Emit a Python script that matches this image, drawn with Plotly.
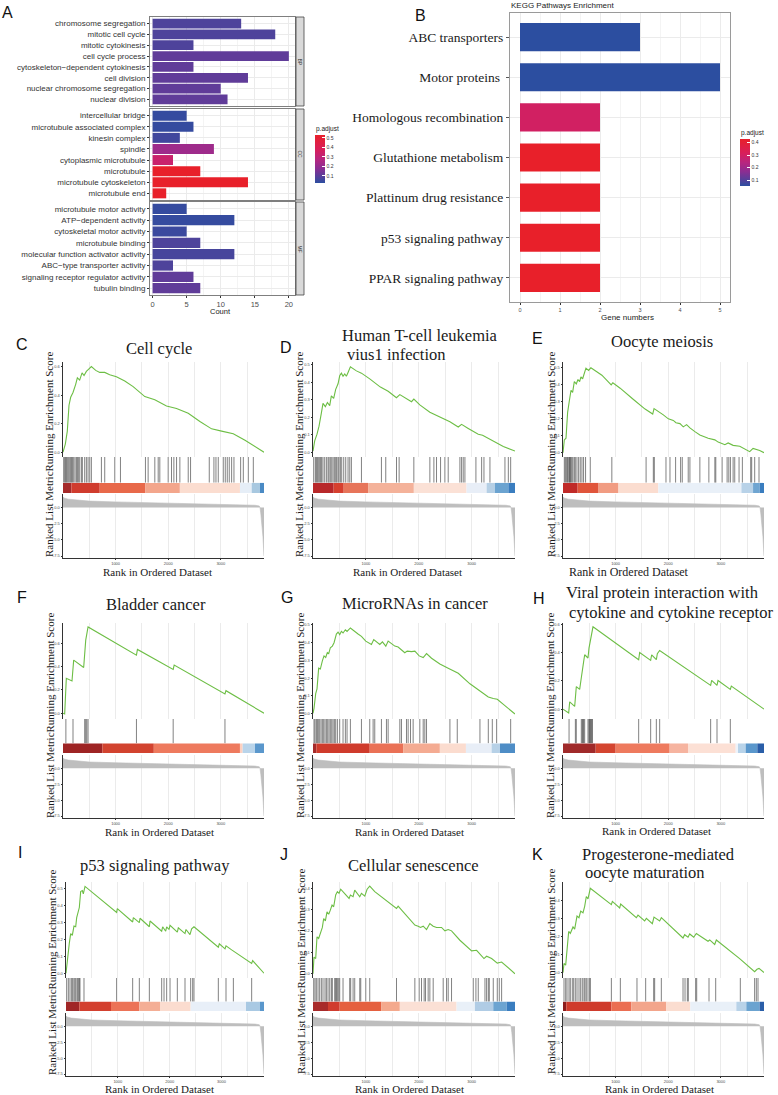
import plotly.graph_objects as go

W, H = 778, 1095
def fx(x): return x / W
def fy(y): return 1 - y / H

SANS = "Liberation Sans, Arial, sans-serif"
SERIF = "Liberation Serif, Times New Roman, serif"
GRID = "#EBEBEB"
GREEN = "#6DBE45"
CSCALE = [[0, "#2C4EA0"], [0.3, "#8A2E93"], [0.5, "#B8267F"], [0.7, "#D81E5A"], [1, "#E8202A"]]

# ---------------- Panel A : GO enrichment ----------------
bp_terms = ["chromosome segregation", "mitotic cell cycle", "mitotic cytokinesis", "cell cycle process",
            "cytoskeleton\u2212dependent cytokinesis", "cell division", "nuclear chromosome segregation", "nuclear division"]
bp_count = [13, 18, 6, 20, 6, 14, 10, 11]
bp_padj = [0.08, 0.08, 0.08, 0.11, 0.11, 0.11, 0.11, 0.11]
cc_terms = ["intercellular bridge", "microtubule associated complex", "kinesin complex", "spindle",
            "cytoplasmic microtubule", "microtubule", "microtubule cytoskeleton", "microtubule end"]
cc_count = [5, 6, 4, 9, 3, 7, 14, 2]
cc_padj = [0.04, 0.04, 0.06, 0.22, 0.33, 0.53, 0.53, 0.53]
mf_terms = ["microtubule motor activity", "ATP\u2212dependent activity", "cytoskeletal motor activity", "microtubule binding",
            "molecular function activator activity", "ABC\u2212type transporter activity",
            "signaling receptor regulator activity", "tubulin binding"]
mf_count = [5, 12, 5, 7, 12, 3, 6, 7]
mf_padj = [0.04, 0.04, 0.05, 0.08, 0.07, 0.08, 0.11, 0.11]
a_xticks = [0, 5, 10, 15, 20]
a_cticks = [0.1, 0.2, 0.3, 0.4, 0.5]

# ---------------- Panel B : KEGG enrichment ----------------
kegg_terms = ["ABC transporters", "Motor proteins ", "Homologous recombination", "Glutathione metabolism",
              "Plattinum drug resistance", "p53 signaling pathway", "PPAR signaling pathway"]
kegg_count = [3, 5, 2, 2, 2, 2, 2]
kegg_padj = [0.052, 0.052, 0.30, 0.43, 0.43, 0.43, 0.43]
b_xticks = [0, 1, 2, 3, 4, 5]
b_cticks = [0.1, 0.2, 0.3, 0.4]

# ---------------- GSEA shared ranked list metric ----------------
NGENES = 3820
metric_x = [0, 30, 100, 250, 500, 1000, 2000, 3000, 3650, 3730, 3745, 3760, 3780, 3800, 3820]
metric_y = [1.6, 1.45, 1.3, 1.15, 1.0, 0.88, 0.68, 0.52, 0.36, 0.25, 0.0, -1.0, -2.5, -4.5, -7.5]
rank_ticks = [1000, 2000, 3000]
metric_ticks = [-7.5, -5.0, -2.5, 0.0]

# C  Cell cycle
c_es_x = [0,44,82,114,146,190,241,273,317,362,400,444,489,539,622,698,793,888,1015,1174,1333,1555,1745,1967,2158,2380,2602,2824,3014,3236,3459,3681,3820]
c_es_y = [0,0.057,0.148,0.33,0.386,0.42,0.477,0.523,0.507,0.557,0.539,0.568,0.584,0.602,0.575,0.561,0.561,0.545,0.53,0.5,0.461,0.391,0.368,0.325,0.307,0.273,0.216,0.164,0.148,0.13,0.084,0.034,0]
c_hits = [13,32,51,63,82,102,127,146,165,178,203,228,254,273,292,317,349,368,412,444,476,508,539,730,793,984,1092,1567,1618,1745,1809,1840,1999,2062,2107,2158,2221,2380,2424,2780,2868,2907,2951,3046,3084,3122,3160,3205,3249,3376,3427,3522,3617]
c_seg_edges = [0,159,698,1567,2221,3363,3586,3744,3820]
c_seg_colors = ["#A52A2A","#D03C2E","#E8694A","#F3A68C","#FBDDD0","#E6EEF7","#A8C8E0","#4A8AC4"]
c_es_ticks = [0.0, 0.2, 0.4, 0.6]

# D  Human T-cell leukemia virus 1 infection
d_es_x = [0,32,76,114,158,189,234,272,316,347,391,429,474,505,537,568,600,631,663,707,821,916,1073,1275,1421,1578,1642,1768,1863,1907,2020,2210,2431,2589,2747,2810,2936,3031,3125,3207,3409,3599,3820]
d_es_y = [0.006,0.065,0.103,0.149,0.224,0.28,0.261,0.285,0.267,0.323,0.308,0.36,0.392,0.438,0.453,0.435,0.448,0.435,0.457,0.489,0.466,0.453,0.42,0.373,0.349,0.312,0.33,0.308,0.289,0.304,0.271,0.229,0.196,0.174,0.144,0.159,0.136,0.121,0.103,0.097,0.062,0.032,0.006]
d_hits = [13,44,63,82,101,126,145,164,189,221,253,284,303,328,354,379,404,429,448,474,492,518,543,581,619,663,695,726,916,1294,1376,1579,1629,1907,2210,2286,2336,2412,2494,2557,2778,2810,2841,2873,3081,3189,3233,3346,3630,3694,3738]
d_seg_edges = [0,391,581,1042,1907,2904,3283,3441,3694,3820]
d_seg_colors = ["#B8282A","#D6402F","#E7755A","#F4B29A","#FBE1D6","#E8EEF7","#B5CFE5","#6BA3D0","#3A7DBF"]
d_es_ticks = [0.0, 0.1, 0.2, 0.3, 0.4, 0.5]

# E  Oocyte meiosis
e_es_x = [0,25,57,88,120,152,183,215,253,284,316,341,373,404,436,486,530,739,916,947,1086,1339,1560,1705,1730,1907,2002,2096,2147,2223,2286,2349,2412,2507,2601,2759,2886,2949,3076,3139,3233,3359,3422,3548,3612,3675,3738,3820]
e_es_y = [0,0.075,0.085,0.236,0.302,0.364,0.353,0.415,0.402,0.428,0.415,0.443,0.432,0.462,0.494,0.481,0.496,0.453,0.396,0.409,0.377,0.311,0.255,0.226,0.258,0.221,0.198,0.189,0.175,0.17,0.151,0.164,0.145,0.123,0.104,0.085,0.075,0.062,0.047,0.057,0.043,0.038,0.028,0.006,0.025,0.019,0.013,0]
e_hits = [25,44,63,82,95,114,126,139,152,170,189,215,234,265,297,328,360,391,429,518,928,1579,1717,1736,1957,2033,2140,2235,2267,2380,2412,2601,2772,2886,2904,3024,3119,3151,3182,3233,3264,3346,3409,3567,3586,3643,3725]
e_seg_edges = [0,278,676,1054,1812,3391,3612,3738,3820]
e_seg_colors = ["#C02A28","#E0553B","#F19C82","#FBDDD0","#E9F0F8","#B8D2E8","#6FA5D1","#3A7DBF"]
e_es_ticks = [0.0, 0.1, 0.2, 0.3, 0.4, 0.5]

# F  Bladder cancer
f_es_x = [0,32,63,95,171,203,286,393,432,457,476,1396,1415,2094,2113,3078,3097,3820]
f_es_y = [0,-0.006,0.3,0.294,0.277,0.457,0.429,0.394,0.629,0.686,0.743,0.5,0.549,0.377,0.414,0.166,0.194,0.0]
f_hits = [55,190,412,432,452,476,1396,2094,3078]
f_seg_edges = [0,749,1726,3363,3414,3649,3820]
f_seg_colors = ["#9E2424","#D2432F","#EE7A5E","#FDD0C0","#B9D4EA","#5A97CC"]
f_es_ticks = [0.0, 0.2, 0.4, 0.6]

# G  MicroRNAs in cancer
g_es_x = [0,19,51,76,107,139,177,208,240,271,297,328,366,398,442,474,505,537,568,612,644,707,852,916,998,1105,1149,1263,1313,1377,1421,1547,1610,1736,1781,1863,1926,2008,2084,2147,2242,2399,2557,2747,2968,3157,3315,3409,3485,3820]
g_es_y = [0.002,0.03,0.113,0.14,0.256,0.251,0.297,0.325,0.316,0.343,0.338,0.371,0.38,0.399,0.448,0.459,0.445,0.463,0.454,0.472,0.463,0.482,0.448,0.435,0.408,0.389,0.417,0.389,0.404,0.38,0.408,0.38,0.375,0.343,0.352,0.349,0.352,0.325,0.316,0.338,0.312,0.279,0.256,0.227,0.168,0.127,0.094,0.085,0.081,-0.002]
g_hits = [19,38,63,82,101,126,152,177,202,227,253,278,303,328,354,379,404,429,461,505,568,612,644,707,916,1073,1137,1168,1294,1389,1421,1642,1673,1768,1799,1844,1894,2020,2084,2115,2147,2589,2728,3157,3315,3391,3473,3738]
g_seg_edges = [0,63,1073,1705,2399,2892,3378,3536,3820]
g_seg_colors = ["#A52A2A","#CF3B2C","#EA7156","#F4AB92","#FBDCCF","#E8EEF7","#B7D1E7","#4E8DC6"]
g_es_ticks = [0.0, 0.1, 0.2, 0.3, 0.4, 0.5]

# H  Viral protein interaction with cytokine and cytokine receptor
h_es_x = [0,108,127,222,253,317,348,367,393,412,475,494,519,545,570,1438,1457,1666,1685,1774,1793,1837,2806,2825,2927,2946,3180,3199,3820]
h_es_y = [0,-0.028,0.051,0.019,0.159,0.14,0.222,0.285,0.338,0.385,0.362,0.432,0.478,0.537,0.583,0.35,0.401,0.345,0.385,0.35,0.392,0.415,0.168,0.203,0.168,0.203,0.14,0.163,0]
h_hits = [115,235,253,348,367,380,393,412,475,494,506,519,532,545,560,1438,1666,1774,1837,2806,2927,3180]
h_seg_edges = [0,621,1001,2027,2376,3282,3326,3472,3693,3820]
h_seg_colors = ["#A02A2A","#D44530","#EE7A5E","#F6B4A0","#FCE0D5","#EDF3FA","#B8D3E9","#5A97CC","#2A5EA8"]
h_es_ticks = [0.0, 0.2, 0.4, 0.6]

# I  p53 signaling pathway
i_es_x = [0,32,64,90,122,154,187,206,232,257,283,315,334,367,977,990,1286,1299,1415,1428,1608,1621,1846,1865,1923,1942,1987,2007,2148,2167,2296,2315,2392,2424,2469,2939,2958,3068,3087,3196,3582,3601,3820]
i_es_y = [0,0.108,0.177,0.233,0.223,0.277,0.273,0.327,0.361,0.386,0.48,0.486,0.466,0.51,0.357,0.38,0.301,0.327,0.297,0.323,0.273,0.307,0.247,0.273,0.247,0.273,0.257,0.281,0.241,0.267,0.233,0.257,0.227,0.261,0.273,0.153,0.173,0.143,0.161,0.137,0.058,0.074,0]
i_hits = [13,45,77,109,129,154,174,193,219,238,257,270,347,977,1286,1415,1608,1846,1891,1942,2007,2148,2296,2405,2444,2469,2939,3087,3229,3582]
i_seg_edges = [0,257,868,1415,1814,2405,3473,3743,3820]
i_seg_colors = ["#A02626","#D3402F","#EC7357","#F4AE95","#FBDCCF","#E8EFF8","#A9C9E3","#5A97CC"]
i_es_ticks = [0.0, 0.1, 0.2, 0.3, 0.4, 0.5]

# J  Cellular senescence
j_es_x = [0,19,51,76,107,139,177,202,234,265,297,328,360,391,429,461,492,524,568,682,707,758,789,884,916,979,1023,1073,1168,1389,1484,1579,1610,1768,1926,1989,2033,2084,2147,2210,2273,2336,2431,2494,2557,2620,2778,3000,3094,3233,3283,3378,3485,3567,3820]
j_es_y = [0,0.078,0.071,0.173,0.165,0.188,0.217,0.259,0.248,0.29,0.279,0.298,0.322,0.314,0.369,0.385,0.377,0.396,0.385,0.353,0.369,0.361,0.392,0.361,0.377,0.364,0.396,0.411,0.385,0.342,0.322,0.306,0.317,0.27,0.228,0.223,0.217,0.223,0.207,0.235,0.223,0.217,0.217,0.201,0.207,0.201,0.157,0.107,0.11,0.071,0.082,0.071,0.05,0.055,0]
j_hits = [13,38,63,95,126,158,189,227,253,284,316,347,366,410,429,442,461,486,505,568,694,713,758,789,884,903,998,1073,1579,1926,2008,2052,2102,2128,2178,2210,2273,2462,2526,2557,2620,3031,3081,3125,3252,3283,3315,3334,3409,3485,3523,3567]
j_seg_edges = [0,284,505,1294,1642,2715,3062,3409,3662,3820]
j_seg_colors = ["#A82A2A","#D03C2E","#E5603F","#F4A98D","#FBE0D5","#E9F0F8","#B0CCE5","#6CA4D1","#3A7DBF"]
j_es_ticks = [0.0, 0.1, 0.2, 0.3, 0.4]

# K  Progesterone-mediated oocyte maturation
k_es_x = [0,19,51,76,108,139,190,222,266,304,336,380,412,443,475,519,919,938,1077,1096,1394,1425,1552,1584,1698,1729,1837,1869,2281,2312,2376,2408,2484,2534,2756,2788,2883,2914,3357,3642,3687,3725,3820]
k_es_y = [0,0.05,0.041,0.137,0.227,0.216,0.252,0.24,0.312,0.303,0.339,0.33,0.366,0.42,0.407,0.465,0.375,0.393,0.357,0.378,0.303,0.317,0.285,0.299,0.27,0.306,0.285,0.303,0.191,0.209,0.195,0.213,0.195,0.216,0.173,0.18,0.155,0.18,0.077,0.005,0.018,0.023,0]
k_hits = [19,51,76,114,139,177,203,234,266,304,336,367,399,418,443,475,507,519,919,1090,1406,1571,1723,1742,1869,2281,2319,2363,2382,2521,2541,2775,2902,3370,3642,3674,3706]
k_seg_edges = [0,63,919,1299,1964,2420,3294,3484,3738,3820]
k_seg_colors = ["#8C1C1C","#CF3B2C","#EB6E52","#F3A58B","#FBDDD0","#E9F0F8","#B8D2E8","#6BA3D0","#2A5EA8"]
k_es_ticks = [0.0, 0.1, 0.2, 0.3, 0.4]

# ================= build figure =================
fig = go.Figure()
layout = {}
annotations = []
shapes = []
counter = [0]

def new_axes():
    counter[0] += 1
    n = counter[0]
    s = "" if n == 1 else str(n)
    return "x" + s, "y" + s, "xaxis" + s, "yaxis" + s

def ann(text, x, y, size, family=SERIF, color="#1a1a1a", xanchor="center", yanchor="middle", angle=0):
    annotations.append(dict(text=text, x=fx(x), y=fy(y), xref="paper", yref="paper", showarrow=False,
                            font=dict(size=size, family=family, color=color),
                            xanchor=xanchor, yanchor=yanchor, textangle=angle, borderpad=0))

# ---- Panel A
A_FACETS = [(bp_terms, bp_count, bp_padj, 17, 106, "BP"),
            (cc_terms, cc_count, cc_padj, 109, 200, "CC"),
            (mf_terms, mf_count, mf_padj, 202, 295, "MF")]
for i, (terms, cnt, padj, top, bot, strip) in enumerate(A_FACETS):
    xr, yr, xk, yk = new_axes()
    fig.add_trace(go.Bar(x=cnt, y=terms, orientation="h", width=0.9,
                         marker=dict(color=padj, coloraxis="coloraxis", line=dict(width=0)),
                         xaxis=xr, yaxis=yr, hoverinfo="skip"))
    last = (i == 2)
    layout[xk] = dict(domain=[fx(150), fx(295)], range=[-0.38, 20.9], anchor=yr,
                      tickmode="array", tickvals=a_xticks, showticklabels=last,
                      tickfont=dict(size=7.5, family=SANS, color="#4D4D4D"),
                      ticks="outside" if last else "", ticklen=2, tickcolor="#333",
                      showgrid=True, gridcolor=GRID,
                      minor=dict(tickvals=[2.5, 7.5, 12.5, 17.5], showgrid=True, gridcolor="#F4F4F4"),
                      showline=True, mirror=True, linecolor="#7F7F7F", linewidth=1, zeroline=False)
    layout[yk] = dict(domain=[fy(bot), fy(top)], type="category", categoryorder="array",
                      categoryarray=terms[::-1], range=[-0.6, 7.6], anchor=xr,
                      tickfont=dict(size=8, family=SANS, color="#333"),
                      ticks="outside", ticklen=2, tickcolor="#333", showgrid=True, gridcolor=GRID,
                      showline=True, mirror=True, linecolor="#7F7F7F", linewidth=1, zeroline=False)
    shapes.append(dict(type="rect", xref="paper", yref="paper", x0=fx(296), x1=fx(304), y0=fy(bot), y1=fy(top),
                       fillcolor="#D9D9D9", line=dict(color="#444", width=0.8)))
    ann(strip, 300, (top + bot) / 2, 5, family=SANS, color="#333", angle=90)

ann("Count", 221, 311, 7.5, family=SANS, color="#222")
ann("p.adjust", 315, 129, 6.5, family=SANS, color="#222", xanchor="left")
ann("A", 7, 13, 16, family=SANS, color="#111")

# ---- Panel B
xr, yr, xk, yk = new_axes()
fig.add_trace(go.Bar(x=kegg_count, y=kegg_terms, orientation="h", width=0.7,
                     marker=dict(color=kegg_padj, coloraxis="coloraxis2", line=dict(width=0)),
                     xaxis=xr, yaxis=yr, hoverinfo="skip"))
layout[xk] = dict(domain=[fx(510), fx(730)], range=[-0.25, 5.25], anchor=yr,
                  tickmode="array", tickvals=b_xticks, tickfont=dict(size=5.5, family=SANS, color="#4D4D4D"),
                  ticks="outside", ticklen=2, tickcolor="#333", showgrid=True, gridcolor=GRID,
                  minor=dict(tickvals=[0.5, 1.5, 2.5, 3.5, 4.5], showgrid=True, gridcolor="#F4F4F4"),
                  showline=True, mirror=True, linecolor="#9A9A9A", linewidth=1, zeroline=False)
layout[yk] = dict(domain=[fy(302), fy(13)], type="category", categoryorder="array",
                  categoryarray=kegg_terms[::-1], range=[-0.6, 6.6], anchor=xr,
                  tickfont=dict(size=13.5, family=SERIF, color="#1a1a1a"),
                  ticks="outside", ticklen=3, tickcolor="#555", showgrid=True, gridcolor=GRID,
                  showline=True, mirror=True, linecolor="#9A9A9A", linewidth=1, zeroline=False)
ann("KEGG Pathways Enrichment", 510, 6, 8, family=SANS, color="#222", xanchor="left")
ann("Gene numbers", 627, 317, 8, family=SANS, color="#222")
ann("p.adjust", 740, 133, 6.5, family=SANS, color="#222", xanchor="left")
ann("B", 420, 15, 16, family=SANS, color="#111")

# ---- GSEA panels
ROWS = {1: (362, 457, 493, 494, 558),
        2: (623, 719, 753, 755, 818),
        3: (882, 978, 1011, 1013, 1076)}
PANELS = [
    ("C", c_es_x, c_es_y, c_hits, c_seg_edges, c_seg_colors, c_es_ticks, [-0.034, 0.634], 63, 264, 1),
    ("D", d_es_x, d_es_y, d_hits, d_seg_edges, d_seg_colors, d_es_ticks, [-0.028, 0.517], 313, 515, 1),
    ("E", e_es_x, e_es_y, e_hits, e_seg_edges, e_seg_colors, e_es_ticks, [-0.025, 0.53], 563, 764, 1),
    ("F", f_es_x, f_es_y, f_hits, f_seg_edges, f_seg_colors, f_es_ticks, [-0.05, 0.777], 63, 264, 2),
    ("G", g_es_x, g_es_y, g_hits, g_seg_edges, g_seg_colors, g_es_ticks, [-0.03, 0.51], 313, 515, 2),
    ("H", h_es_x, h_es_y, h_hits, h_seg_edges, h_seg_colors, h_es_ticks, [-0.07, 0.61], 563, 764, 2),
    ("I", i_es_x, i_es_y, i_hits, i_seg_edges, i_seg_colors, i_es_ticks, [-0.028, 0.536], 66, 264, 3),
    ("J", j_es_x, j_es_y, j_hits, j_seg_edges, j_seg_colors, j_es_ticks, [-0.02, 0.43], 313, 515, 3),
    ("K", k_es_x, k_es_y, k_hits, k_seg_edges, k_seg_colors, k_es_ticks, [-0.03, 0.5], 563, 764, 3),
]
TICKF = dict(size=4, family=SANS, color="#4D4D4D")
for key, esx, esy, hits, edges, colors, esticks, esrange, left, right, row in PANELS:
    es_top, es_bot, mid_bot, bot_top, bot_bot = ROWS[row]
    # running enrichment score
    xr, yr, xk, yk = new_axes()
    fig.add_trace(go.Scatter(x=esx, y=esy, mode="lines", line=dict(color=GREEN, width=1.1),
                             xaxis=xr, yaxis=yr, hoverinfo="skip"))
    layout[xk] = dict(domain=[fx(left), fx(right)], range=[0, NGENES], anchor=yr, showticklabels=False,
                      tickmode="array", tickvals=rank_ticks, ticks="", showgrid=True, gridcolor=GRID,
                      minor=dict(tickvals=[500, 1500, 2500, 3500], showgrid=True, gridcolor=GRID),
                      zeroline=False, showline=False)
    layout[yk] = dict(domain=[fy(es_bot), fy(es_top)], range=esrange, anchor=xr, tickmode="array",
                      tickvals=esticks, ticktext=[f"{v:.1f}" for v in esticks], tickfont=TICKF,
                      ticks="outside", ticklen=1.5, tickcolor="#333", showline=True, linecolor="#333",
                      linewidth=0.8, showgrid=False, zeroline=False)
    # hits + colour bar
    xr, yr, xk, yk = new_axes()
    hx, hy = [], []
    for h in hits:
        hx += [h, h, None]
        hy += [0.29, 1.0, None]
    fig.add_trace(go.Scatter(x=hx, y=hy, mode="lines", line=dict(color="rgba(30,30,30,0.7)", width=0.8),
                             xaxis=xr, yaxis=yr, hoverinfo="skip"))
    starts = edges[:-1]
    widths = [b - a for a, b in zip(edges[:-1], edges[1:])]
    fig.add_trace(go.Bar(x=widths, base=starts, y=[0.14] * len(widths), orientation="h", width=0.28,
                         marker=dict(color=colors, line=dict(width=0)), xaxis=xr, yaxis=yr, hoverinfo="skip"))
    layout[xk] = dict(domain=[fx(left), fx(right)], range=[0, NGENES], anchor=yr, visible=False)
    layout[yk] = dict(domain=[fy(mid_bot), fy(es_bot)], range=[0, 1], anchor=xr, visible=False)
    # ranked list metric
    xr, yr, xk, yk = new_axes()
    fig.add_trace(go.Scatter(x=metric_x, y=metric_y, mode="lines", fill="tozeroy",
                             fillcolor="#BEBEBE", line=dict(color="#BEBEBE", width=0.6),
                             xaxis=xr, yaxis=yr, hoverinfo="skip"))
    layout[xk] = dict(domain=[fx(left), fx(right)], range=[0, NGENES], anchor=yr, tickmode="array",
                      tickvals=rank_ticks, tickfont=TICKF, ticks="outside", ticklen=1.5, tickcolor="#333",
                      showgrid=True, gridcolor=GRID,
                      minor=dict(tickvals=[500, 1500, 2500, 3500], showgrid=True, gridcolor=GRID),
                      showline=True, linecolor="#333", linewidth=0.8, zeroline=False)
    layout[yk] = dict(domain=[fy(bot_bot), fy(bot_top)], range=[-7.8, 2.1], anchor=xr, tickmode="array",
                      tickvals=metric_ticks, ticktext=[f"{v:.1f}" for v in metric_ticks], tickfont=TICKF,
                      ticks="outside", ticklen=1.5, tickcolor="#333", showline=True, linecolor="#333",
                      linewidth=0.8, showgrid=False, zeroline=False)

# GSEA texts
ylabel = "Ranked List MetricRunning Enrichment Score"
for x, y in [(49, 455), (299, 455), (551, 455), (50, 716), (300, 716), (550, 716), (52, 972), (301, 972), (551, 972)]:
    ann(ylabel, x, y, 11, angle=-90)
for x, y, s in [(157, 572, 11), (407, 572, 11), (629, 572, 12), (159, 832, 11), (409, 832, 11),
                (656, 831, 11), (159, 1089, 11), (409, 1089, 11), (659, 1089, 11)]:
    ann("Rank in Ordered Dataset", x, y, s)
TITLES = [("Cell cycle", 159, 348), ("Human T-cell leukemia", 420, 335), ("vius1 infection", 396, 354),
          ("Oocyte meiosis", 662, 341), ("Bladder cancer", 156, 604), ("MicroRNAs in cancer", 415, 603),
          ("Viral protein interaction with", 662, 592), ("cytokine and cytokine receptor", 671, 612),
          ("p53 signaling pathway", 155, 865), ("Cellular senescence", 413, 865),
          ("Progesterone-mediated", 658, 854), ("oocyte maturation", 645, 873)]
for t, x, y in TITLES:
    ann(t, x, y, 16.5)
for lab, x, y in [("C", 22, 345), ("D", 286, 347), ("E", 537, 339), ("F", 22, 597), ("G", 287, 597),
                  ("H", 539, 598), ("I", 20, 852), ("J", 284, 854), ("K", 537, 854)]:
    ann(lab, x, y, 16, family=SANS, color="#111")

cb_common = dict(thickness=10, lenmode="pixels", xanchor="left", yanchor="top", ticks="inside",
                 ticklen=3, tickcolor="white", outlinewidth=0, xpad=0, ypad=0,
                 tickfont=dict(size=5, family=SANS, color="#333"))
layout["coloraxis"] = dict(colorscale=CSCALE, cmin=0.026, cmax=0.53,
                           colorbar=dict(len=48, x=fx(315), y=fy(135), tickvals=a_cticks, **cb_common))
layout["coloraxis2"] = dict(colorscale=CSCALE, cmin=0.052, cmax=0.43,
                            colorbar=dict(len=47, x=fx(740), y=fy(139), tickvals=b_cticks, **cb_common))

fig.update_layout(width=W, height=H, margin=dict(l=0, r=0, t=0, b=0), paper_bgcolor="white",
                  plot_bgcolor="white", showlegend=False, barmode="overlay",
                  annotations=annotations, shapes=shapes, **layout)
fig.write_html("out.html")
